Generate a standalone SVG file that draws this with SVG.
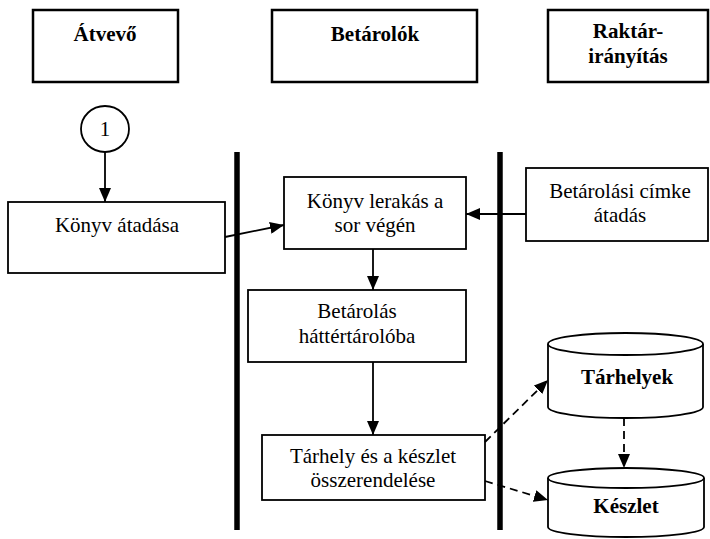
<svg xmlns="http://www.w3.org/2000/svg" width="710" height="539" viewBox="0 0 710 539" font-family="'Liberation Serif', 'Times New Roman', Tinos, 'DejaVu Serif', serif">
<style>
text{font-family:"Liberation Serif","Times New Roman",Tinos,"DejaVu Serif",serif;font-size:21px;fill:#000;text-anchor:middle}
.h{font-weight:bold}
.hb{fill:#fff;stroke:#000;stroke-width:2.5}
.b{fill:#fff;stroke:#000;stroke-width:1.8}
.c{fill:none;stroke:#000;stroke-width:1.8}
.d{fill:none;stroke:#000;stroke-width:1.8;stroke-dasharray:8,5}
.lane{stroke:#000;stroke-width:5.5}
</style>
<defs>
<marker id="ah" markerWidth="14" markerHeight="12" refX="14" refY="6" orient="auto" markerUnits="userSpaceOnUse">
<path d="M0,0 L14,6 L0,12 Z" fill="#000"/>
</marker>
</defs>
<rect width="710" height="539" fill="#fff"/>
<g id="lanes">
<line class="lane" x1="237" y1="152" x2="237" y2="530"/>
<line class="lane" x1="500" y1="152" x2="500" y2="530"/>
</g>
<g id="hdr-atvevo"><rect class="hb" x="33" y="10" width="145" height="72"/><text class="h" x="105" y="41">Átvevő</text></g>
<g id="hdr-betarolok"><rect class="hb" x="272" y="10" width="205" height="72"/><text class="h" x="375" y="41">Betárolók</text></g>
<g id="hdr-raktar"><rect class="hb" x="548" y="10" width="160" height="72"/><text class="h" x="628" y="38">Raktár-</text><text class="h" x="628" y="63">irányítás</text></g>
<g id="start"><ellipse class="b" cx="105" cy="129" rx="24" ry="23"/><text x="105" y="136">1</text></g>
<g id="n-atadas"><rect class="b" x="8" y="202" width="217" height="71"/><text x="117" y="232">Könyv átadása</text></g>
<g id="n-lerakas"><rect class="b" x="284" y="177" width="182" height="72"/><text x="375" y="208">Könyv lerakás a</text><text x="375" y="232">sor végén</text></g>
<g id="n-cimke"><rect class="b" x="526" y="168" width="182" height="73"/><text x="620" y="198">Betárolási címke</text><text x="620" y="222">átadás</text></g>
<g id="n-betarolas"><rect class="b" x="248" y="290" width="218" height="72"/><text x="357" y="318">Betárolás</text><text x="357" y="343">háttértárolóba</text></g>
<g id="n-tarhely"><rect class="b" x="262" y="435" width="223" height="65"/><text x="373" y="463">Tárhely és a készlet</text><text x="373" y="487">összerendelése</text></g>
<g id="db-tarhelyek">
<path class="b" d="M548,344 L548,407 A77.5,11 0 0 0 703,407 L703,344"/>
<ellipse class="b" cx="625.5" cy="344" rx="77.5" ry="11"/>
<text class="h" x="627" y="384">Tárhelyek</text>
</g>
<g id="db-keszlet">
<path class="b" d="M548,478 L548,527 A78,10 0 0 0 704,527 L704,478"/>
<ellipse class="b" cx="626" cy="478" rx="78" ry="10"/>
<text class="h" x="626" y="513">Készlet</text>
</g>
<g id="connectors">
<line class="c" x1="105" y1="152" x2="105" y2="202" marker-end="url(#ah)"/>
<line class="c" x1="225" y1="237" x2="284" y2="225" marker-end="url(#ah)"/>
<line class="c" x1="526" y1="214" x2="466" y2="214" marker-end="url(#ah)"/>
<line class="c" x1="373" y1="249" x2="373" y2="290" marker-end="url(#ah)"/>
<line class="c" x1="373" y1="362" x2="373" y2="435" marker-end="url(#ah)"/>
<line class="d" x1="485" y1="442" x2="548" y2="380" marker-end="url(#ah)"/>
<line class="d" x1="485" y1="481" x2="548" y2="500" marker-end="url(#ah)"/>
<line class="d" x1="624" y1="418" x2="624" y2="468" marker-end="url(#ah)"/>
</g>
</svg>
